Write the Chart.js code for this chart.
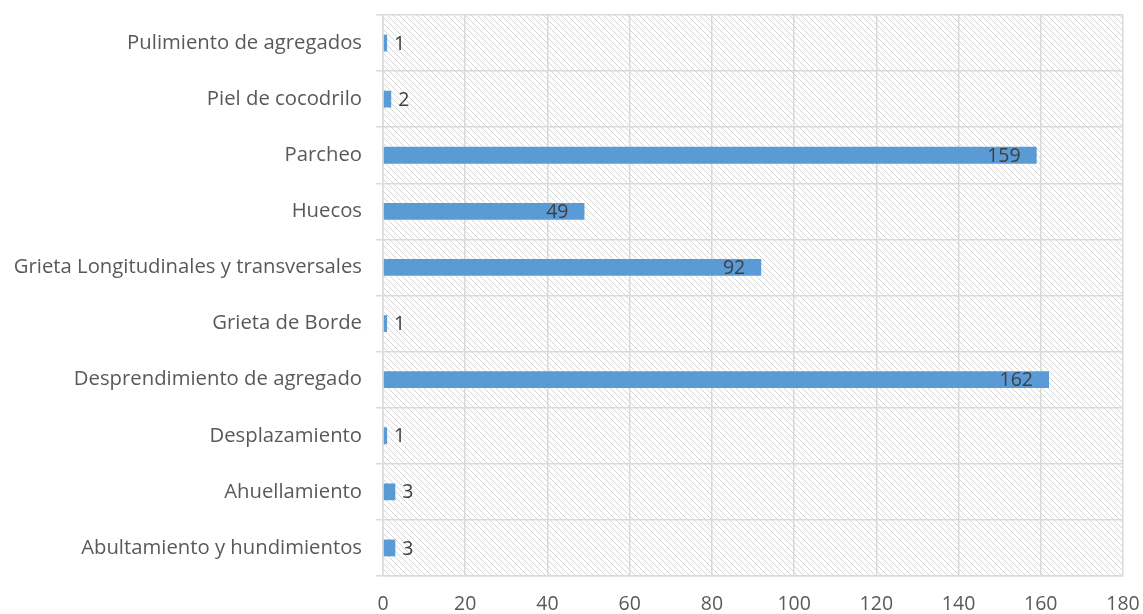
<!DOCTYPE html>
<html>
<head>
<meta charset="utf-8">
<script src="https://cdn.jsdelivr.net/npm/chart.js@4"></script>
<style>
html,body{margin:0;padding:0;background:#fff;}
#wrap{width:1143px;height:614px;position:relative;}
</style>
</head>
<body>
<div id="wrap"><canvas id="c" width="1143" height="614"></canvas></div>
<script>
const categories = [
  "Pulimiento de agregados",
  "Piel de cocodrilo",
  "Parcheo",
  "Huecos",
  "Grieta Longitudinales y transversales",
  "Grieta de Borde",
  "Desprendimiento de agregado",
  "Desplazamiento",
  "Ahuellamiento",
  "Abultamiento y hundimientos"
];
const values = [1, 2, 159, 49, 92, 1, 162, 1, 3, 3];
const xTickMin = 0, xTickMax = 180, xTickStep = 20;

const FONT = "'Open Sans', sans-serif";
const CAT_SIZE = 20.3;
const NUM_SIZE = 19.5;

const hatchPlugin = {
  id: 'hatch',
  beforeDraw(chart) {
    const {ctx, chartArea: a} = chart;
    const tile = document.createElement('canvas');
    tile.width = 6; tile.height = 6;
    const t = tile.getContext('2d');
    t.fillStyle = '#ffffff';
    t.fillRect(0, 0, 6, 6);
    t.strokeStyle = '#d6d6d6';
    t.lineWidth = 1;
    t.beginPath();
    t.moveTo(-1, -1); t.lineTo(7, 7);
    t.moveTo(-7, -1); t.lineTo(1, 7);
    t.moveTo(5, -1); t.lineTo(13, 7);
    t.stroke();
    const pat = ctx.createPattern(tile, 'repeat');
    ctx.save();
    ctx.fillStyle = pat;
    ctx.fillRect(a.left, a.top, a.right - a.left, a.bottom - a.top);
    ctx.restore();
  }
};

const labelPlugin = {
  id: 'barLabels',
  afterDatasetsDraw(chart) {
    const {ctx} = chart;
    const meta = chart.getDatasetMeta(0);
    ctx.save();
    ctx.font = NUM_SIZE + "px " + FONT;
    ctx.fillStyle = '#404040';
    ctx.textBaseline = 'middle';
    meta.data.forEach((bar, i) => {
      const v = chart.data.datasets[0].data[i];
      const txt = String(v);
      if (v > 20) {
        ctx.textAlign = 'right';
        ctx.fillText(txt, bar.x - 16, bar.y + 1);
      } else {
        ctx.textAlign = 'left';
        ctx.fillText(txt, bar.x + 7, bar.y + 1);
      }
    });
    ctx.restore();
  }
};

new Chart(document.getElementById('c'), {
  type: 'bar',
  data: {
    labels: categories,
    datasets: [{
      data: values,
      backgroundColor: '#5b9bd5',
      borderWidth: 0,
      barPercentage: 0.6,
      categoryPercentage: 0.5
    }]
  },
  plugins: [hatchPlugin, labelPlugin],
  options: {
    indexAxis: 'y',
    responsive: false,
    animation: false,
    devicePixelRatio: 1,
    layout: {padding: {top: 15, right: 20, left: 0, bottom: 0}},
    plugins: {legend: {display: false}, tooltip: {enabled: false}},
    scales: {
      x: {
        min: xTickMin, max: xTickMax,
        ticks: {stepSize: xTickStep, color: '#595959', font: {size: NUM_SIZE, family: FONT}, padding: 17},
        grid: {color: '#d9d9d9', lineWidth: 1.5, drawTicks: false},
        border: {color: '#d9d9d9', width: 1.5},
        afterFit(s) { s.height = 38; s.paddingLeft = 0; s.paddingRight = 0; }
      },
      y: {
        ticks: {color: '#595959', font: {size: CAT_SIZE, family: FONT}, padding: 14},
        grid: {color: '#d9d9d9', lineWidth: 1.5, tickLength: 7, offset: true},
        border: {color: '#d9d9d9', width: 1.5},
        afterFit(s) { s.width = 383; s.paddingTop = 0; s.paddingBottom = 0; }
      }
    }
  }
});
</script>
</body>
</html>
